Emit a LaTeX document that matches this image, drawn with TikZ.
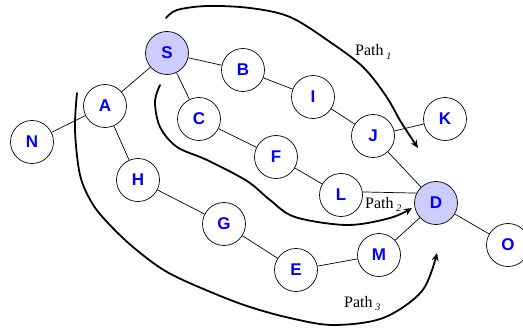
\documentclass[tikz,border=0pt]{standalone}
\usepackage{fontspec}
\setmainfont{Liberation Serif}
\newfontfamily\nodefont{Liberation Sans}
\usetikzlibrary{arrows.meta}
\definecolor{nodeblue}{HTML}{0000FF}
\definecolor{lav}{HTML}{CCCCFF}
\newcommand{\pathsub}[1]{\,\raisebox{-3.5pt}{\fontsize{10}{10}\selectfont\itshape #1}}
\tikzset{
  vert/.style={circle, draw=black, line width=0.7pt, fill=white, minimum size=43pt, inner sep=0pt,
    font=\nodefont\bfseries\fontsize{17}{17}\selectfont, text=nodeblue},
  endpt/.style={vert, fill=lav},
  edge/.style={line width=0.7pt},
  pathline/.style={line width=1.8pt, line cap=round, line join=round, -{Stealth[length=8pt,width=7pt]}},
  plabel/.style={font=\fontsize{16}{16}\selectfont, inner sep=0pt}
}
\begin{document}
\begin{tikzpicture}[x=1pt,y=-1pt]
\useasboundingbox (0,0) rectangle (523,329);
% nodes
\node[endpt] (S) at (167,53) {S};
\node[vert] (B) at (243,70) {B};
\node[vert] (A) at (105,106) {A};
\node[vert] (N) at (32,142) {N};
\node[vert] (C) at (199,119) {C};
\node[vert] (I) at (313,97) {I};
\node[vert] (J) at (373,136) {J};
\node[vert] (K) at (445,119) {K};
\node[vert] (F) at (276,157) {F};
\node[vert] (H) at (138,180) {H};
\node[vert] (G) at (224,224) {G};
\node[vert] (L) at (341,195) {L};
\node[endpt] (D) at (436,203) {D};
\node[vert] (M) at (379,255) {M};
\node[vert] (E) at (296,270) {E};
\node[vert] (O) at (508,245) {O};
% edges
\draw[edge] (S) -- (A);
\draw[edge] (S) -- (B);
\draw[edge] (S) -- (C);
\draw[edge] (A) -- (N);
\draw[edge] (A) -- (H);
\draw[edge] (B) -- (I);
\draw[edge] (I) -- (J);
\draw[edge] (J) -- (K);
\draw[edge] (J) -- (D);
\draw[edge] (C) -- (F);
\draw[edge] (F) -- (L);
\draw[edge] (L.8) -- (D.153);
\draw[edge] (H) -- (G);
\draw[edge] (G) -- (E);
\draw[edge] (E) -- (M);
\draw[edge] (M) -- (D);
\draw[edge] (D) -- (O);
% paths
\draw[pathline] plot[smooth, tension=0.55] coordinates {(166,18) (177,10) (207,6) (250,8) (290,17) (330,42) (363,67) (386,96) (401,122) (418,148)};
\draw[pathline] plot[smooth, tension=0.55] coordinates {(160,85) (155,102) (160,127) (177,147) (207,160) (247,181) (270,200) (295,217) (347,225) (390,218) (412,208)};
\draw[pathline] plot[smooth, tension=0.55] coordinates {(77,93) (75,130) (80,175) (92,203) (108,223) (133,247) (167,272) (213,293) (250,307) (290,318) (333,325) (383,318) (422,291) (437,253)};
% labels
\node[plabel, anchor=base west] (p1) at (355,56) {Path\pathsub{1}};
\node[plabel, anchor=base west] (p2) at (365,208) {Path\pathsub{2}};
\node[plabel, anchor=base west] (p3) at (344,307) {Path\pathsub{3}};
\end{tikzpicture}
\end{document}
